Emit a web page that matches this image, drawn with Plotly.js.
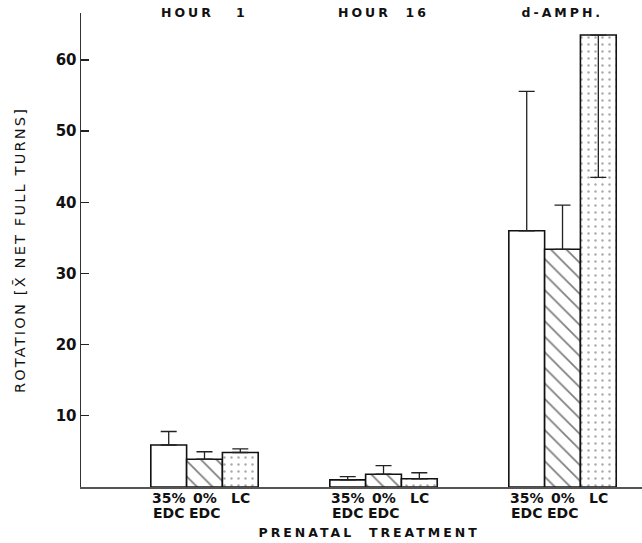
<!DOCTYPE html>
<html>
<head>
<meta charset="utf-8">
<script src="https://cdn.plot.ly/plotly-3.0.1.min.js"></script>
<style>html,body{margin:0;padding:0;background:#fff;}</style>
</head>
<body>
<div id="chart" style="width:642px;height:543px;"></div>
<script>
// ---- data ----
const groupNames = ['HOUR\u00a0\u00a0\u00a01', 'HOUR\u00a0\u00a016', 'd-AMPH.'];
const groupPos = [1, 2, 3];
const treatmentNames = ['35% EDC', '0% EDC', 'LC'];
const treatmentLine1 = ['35%', '0%', 'LC'];
const treatmentLine2 = ['EDC', 'EDC', ''];

const mean35 = [5.9, 1.0, 36.0];
const errUp35 = [1.9, 0.45, 19.6];
const errDown35 = [0, 0, 0];

const mean0 = [3.9, 1.8, 33.4];
const errUp0 = [1.05, 1.2, 6.2];
const errDown0 = [0, 0, 0];

const meanLC = [4.85, 1.15, 63.5];
const errUpLC = [0.5, 0.85, 0];
const errDownLC = [0, 0, 20.0];

const yTicks = [10, 20, 30, 40, 50, 60];

// ---- styling ----
const FONT = 'DejaVu Sans, Arial, sans-serif';
const barLine = {color: '#111', width: 1.6};
function errBar(up, down) {
  return {type: 'data', symmetric: false, array: up, arrayminus: down,
          color: '#222', thickness: 1.3, width: 8, visible: true};
}

const traces = [
  {type: 'bar', name: treatmentNames[0], x: groupPos, y: mean35,
   error_y: errBar(errUp35, errDown35),
   marker: {color: '#ffffff', line: barLine}},
  {type: 'bar', name: treatmentNames[1], x: groupPos, y: mean0,
   error_y: errBar(errUp0, errDown0),
   marker: {color: '#ffffff', line: barLine,
            pattern: {shape: '\\', size: 11, solidity: 0.16, fgcolor: '#000', bgcolor: '#ffffff', fillmode: 'overlay'}}},
  {type: 'bar', name: treatmentNames[2], x: groupPos, y: meanLC,
   error_y: errBar(errUpLC, errDownLC),
   marker: {color: '#ffffff', line: barLine,
            pattern: {shape: '.', size: 7, solidity: 0.1, fgcolor: '#555', bgcolor: '#ffffff', fillmode: 'overlay'}}}
];

const annotations = [];
groupPos.forEach((g, gi) => {
  annotations.push({x: g, y: 1, xref: 'x', yref: 'paper', yanchor: 'middle', yshift: 1,
    text: groupNames[gi], showarrow: false,
    font: {family: FONT, size: 12.5, color: '#111', weight: 'bold'}});
  treatmentLine1.forEach((t, ti) => {
    annotations.push({x: g + (ti - 1) * 0.2, y: 0, xref: 'x', yref: 'y', yanchor: 'middle', yshift: -11,
      text: t, showarrow: false,
      font: {family: FONT, size: 14, color: '#111', weight: 'bold'}});
    if (treatmentLine2[ti]) {
      annotations.push({x: g + (ti - 1) * 0.2, y: 0, xref: 'x', yref: 'y', yanchor: 'middle', yshift: -26,
        text: treatmentLine2[ti], showarrow: false,
        font: {family: FONT, size: 14, color: '#111', weight: 'bold'}});
    }
  });
});
annotations.push({x: 0.515, y: 0, xref: 'paper', yref: 'paper', yanchor: 'middle', yshift: -45,
  text: 'PRENATAL\u00a0\u00a0TREATMENT', showarrow: false,
  font: {family: FONT, size: 12.5, color: '#111', weight: 'bold'}});

const layout = {
  width: 642, height: 543,
  margin: {l: 81, r: 0, t: 13, b: 56},
  paper_bgcolor: '#ffffff', plot_bgcolor: '#ffffff',
  showlegend: false,
  barmode: 'group', bargap: 0.4, bargroupgap: 0,
  xaxis: {range: [0.31, 3.444], showgrid: false, zeroline: false, showticklabels: false,
          ticks: '', showline: true, linecolor: '#555', linewidth: 1.5},
  yaxis: {range: [0, 66.6], tickvals: yTicks, showgrid: false, zeroline: false,
          ticks: 'inside', ticklen: 8, tickwidth: 1.3, tickcolor: '#222',
          showline: true, linecolor: '#333', linewidth: 1.5,
          tickfont: {family: FONT, size: 15, color: '#111', weight: 'bold'},
          title: {text: 'ROTATION [X\u0304 NET FULL TURNS]', standoff: 26,
                  font: {family: FONT, size: 14.5, color: '#111'}}},
  annotations: annotations
};

Plotly.newPlot('chart', traces, layout, {staticPlot: true}).then(() => {
  document.querySelectorAll('.annotation-text').forEach(el => {
    const t = el.textContent;
    if (t.indexOf('HOUR') >= 0 || t.indexOf('AMPH') >= 0 || t.indexOf('PRENATAL') >= 0) {
      el.style.letterSpacing = '3px';
    }
  });
  document.querySelectorAll('.ytitle').forEach(el => { el.style.letterSpacing = '2.2px'; });
});
</script>
</body>
</html>
